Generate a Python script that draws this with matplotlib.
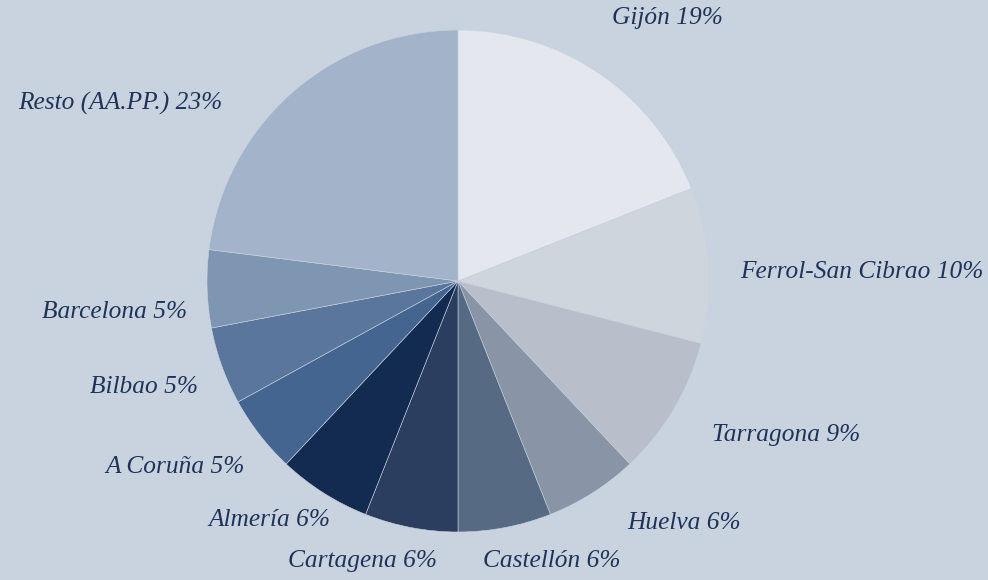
import numpy as np
import matplotlib.pyplot as plt

ports = ["Gijón", "Ferrol-San Cibrao", "Tarragona", "Huelva", "Castellón",
         "Cartagena", "Almería", "A Coruña", "Bilbao", "Barcelona", "Resto (AA.PP.)"]
shares = [19, 10, 9, 6, 6, 6, 6, 5, 5, 5, 23]
colors = ["#e4e8ee", "#cfd5dd", "#b8bfca", "#8995a6", "#566a84", "#2b3e60",
          "#132b50", "#456591", "#5a769c", "#7f96b2", "#a3b4ca"]

bg = "#c9d3df"
text_color = "#1f3358"

# label anchor spots, in pie units (radius = 1)
label_pos = [(0.614, 1.048, "left"), (1.124, 0.036, "left"), (1.012, -0.614, "left"),
             (0.673, -0.964, "left"), (0.100, -1.116, "left"), (-0.084, -1.116, "right"),
             (-0.510, -0.952, "right"), (-0.849, -0.741, "right"), (-1.036, -0.422, "right"),
             (-1.080, -0.124, "right"), (-0.940, 0.709, "right")]

W, H = 988, 580
cx, cy, r = 458, 281, 251

fig = plt.figure(figsize=(W / 100, H / 100), dpi=100, facecolor=bg)
ax = fig.add_axes([0, 0, 1, 1])
ax.set_facecolor(bg)

ax.pie(shares, colors=colors, startangle=90, counterclock=False, radius=1,
       wedgeprops=dict(edgecolor=bg, linewidth=0.4))

for name, val, (x, y, ha) in zip(ports, shares, label_pos):
    ax.text(x, y, f"{name} {val}%", ha=ha, va="center", fontsize=18.3,
            family="Liberation Serif", style="italic", color=text_color)

ax.set_xlim(-cx / r, (W - cx) / r)
ax.set_ylim(-(H - cy) / r, cy / r)
ax.set_aspect("equal")
ax.axis("off")

fig.savefig("out.png", dpi=100, facecolor=bg)
